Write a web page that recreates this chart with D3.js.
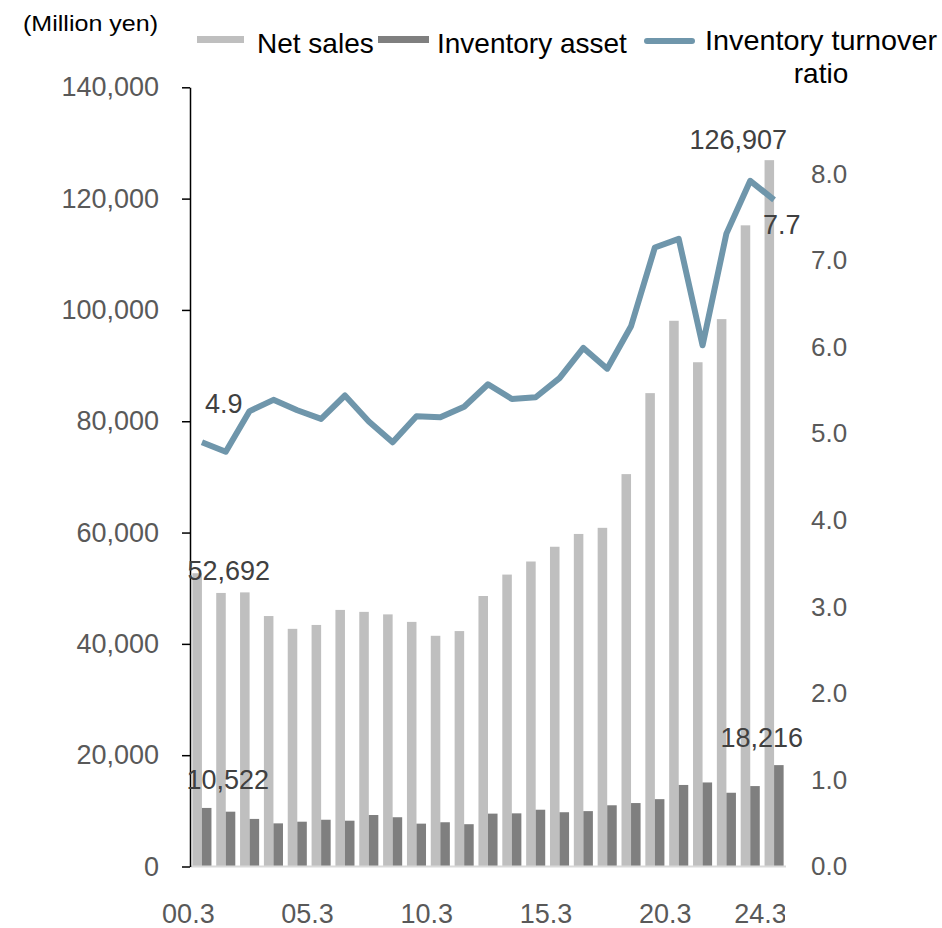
<!DOCTYPE html>
<html>
<head>
<meta charset="utf-8">
<script src="https://cdn.jsdelivr.net/npm/d3@7"></script>
<style>
  body { margin: 0; background: #fff; }
  text { font-family: "Liberation Sans", Arial, sans-serif; }
</style>
</head>
<body>
<script>
// fiscal years (March year-end)
var years = ["00.3","01.3","02.3","03.3","04.3","05.3","06.3","07.3","08.3","09.3",
             "10.3","11.3","12.3","13.3","14.3","15.3","16.3","17.3","18.3","19.3",
             "20.3","21.3","22.3","23.3","24.3"];
var netSales = [52692, 49150, 49250, 45000, 42700, 43400, 46100, 45750, 45300, 43950,
                41450, 42300, 48600, 52450, 54800, 57450, 59750, 60850, 70500, 85050,
                98050, 90600, 98350, 115200, 126907];
var inventory = [10522, 9850, 8550, 7750, 8050, 8400, 8230, 9250, 8850, 7700,
                 7950, 7600, 9500, 9550, 10200, 9750, 9950, 11000, 11400, 12100,
                 14650, 15100, 13250, 14450, 18216];
var turnover = [4.9, 4.79, 5.26, 5.39, 5.27, 5.17, 5.44, 5.14, 4.9, 5.2,
                5.19, 5.31, 5.57, 5.4, 5.42, 5.64, 5.99, 5.75, 6.24, 7.15,
                7.25, 6.02, 7.31, 7.92, 7.7];
var leftTicks = [0, 20000, 40000, 60000, 80000, 100000, 120000, 140000];
var rightTicks = [0, 1, 2, 3, 4, 5, 6, 7, 8];
var xLabels = ["00.3","05.3","10.3","15.3","20.3","24.3"];

var width = 942, height = 928;
var plotLeft = 190, plotRight = 786, plotTop = 87.3, plotBottom = 866.5;
var fs = 27;

var svg = d3.select("body").append("svg")
    .attr("width", width)
    .attr("height", height);

var x = d3.scaleBand()
    .domain(years)
    .range([plotLeft, plotRight])
    .paddingInner(0.2)
    .paddingOuter(0.1);
var bw = x.bandwidth() / 2;

var yL = d3.scaleLinear().domain([0, 140000]).range([plotBottom, plotTop]);
var yR = d3.scaleLinear().domain([0, 9]).range([plotBottom, plotTop]);

// bars
svg.append("g").selectAll("rect")
  .data(years)
  .enter().append("rect")
    .attr("x", function(d){ return x(d); })
    .attr("y", function(d, i){ return yL(netSales[i]); })
    .attr("width", bw)
    .attr("height", function(d, i){ return plotBottom - yL(netSales[i]); })
    .attr("fill", "#bfbfbf");

svg.append("g").selectAll("rect")
  .data(years)
  .enter().append("rect")
    .attr("x", function(d){ return x(d) + bw; })
    .attr("y", function(d, i){ return yL(inventory[i]); })
    .attr("width", bw)
    .attr("height", function(d, i){ return plotBottom - yL(inventory[i]); })
    .attr("fill", "#7f7f7f");

// baseline
svg.append("line")
    .attr("x1", plotLeft).attr("x2", plotRight)
    .attr("y1", plotBottom).attr("y2", plotBottom)
    .attr("stroke", "#d9d9d9").attr("stroke-width", 2);

// left axis
var gl = svg.append("g")
    .attr("transform", "translate(" + plotLeft + ",0)")
    .call(d3.axisLeft(yL).tickValues(leftTicks).tickSize(8).tickSizeOuter(0)
          .tickPadding(23).tickFormat(d3.format(",")));
gl.select(".domain").attr("stroke", "#000").attr("stroke-width", 1.5);
gl.selectAll(".tick line").attr("stroke", "#000").attr("stroke-width", 1.5);
gl.selectAll("text").attr("font-size", fs).attr("fill", "#595959")
    .attr("font-family", "Liberation Sans, Arial, sans-serif");

// right axis (labels only)
var gr = svg.append("g")
    .attr("transform", "translate(790,0)")
    .call(d3.axisRight(yR).tickValues(rightTicks).tickSize(0).tickPadding(21)
          .tickFormat(d3.format(".1f")));
gr.select(".domain").remove();
gr.selectAll("text").attr("font-size", fs - 1).attr("fill", "#595959")
    .attr("font-family", "Liberation Sans, Arial, sans-serif");

// x axis labels
svg.append("clipPath").attr("id", "xclip")
  .append("rect").attr("x", 0).attr("y", 0).attr("width", 785).attr("height", height);
var gx = svg.append("g")
    .attr("clip-path", "url(#xclip)")
  .append("g")
    .attr("transform", "translate(" + (-(x.bandwidth() / 2 + 4)) + "," + plotBottom + ")")
    .call(d3.axisBottom(x).tickValues(xLabels).tickSize(0).tickPadding(37));
gx.select(".domain").remove();
gx.selectAll("text").attr("font-size", fs).attr("fill", "#595959")
    .attr("font-family", "Liberation Sans, Arial, sans-serif");

// turnover line
var line = d3.line()
    .x(function(d, i){ return x(years[i]) + x.bandwidth() / 2; })
    .y(function(d){ return yR(d); });

svg.append("path")
    .datum(turnover)
    .attr("d", line)
    .attr("fill", "none")
    .attr("stroke", "#6f96ab")
    .attr("stroke-width", 6)
    .attr("stroke-linejoin", "round");

// data labels
var last = years.length - 1;
var lab = svg.append("g")
    .attr("font-size", fs)
    .attr("fill", "#404040");

lab.append("text")
    .attr("x", x(years[0]) - 5)
    .attr("y", yL(netSales[0]) + 7)
    .text(d3.format(",")(netSales[0]));
lab.append("text")
    .attr("x", x(years[0]) - 6)
    .attr("y", yL(inventory[0]) - 19)
    .text(d3.format(",")(inventory[0]));
lab.append("text")
    .attr("x", x(years[last]) + bw / 2 - 31)
    .attr("y", yL(netSales[last]) - 11)
    .attr("text-anchor", "middle")
    .text(d3.format(",")(netSales[last]));
lab.append("text")
    .attr("x", x(years[last]) + bw * 1.5 - 17)
    .attr("y", yL(inventory[last]) - 18)
    .attr("text-anchor", "middle")
    .text(d3.format(",")(inventory[last]));
lab.append("text")
    .attr("x", x(years[0]) + x.bandwidth() / 2 + 3)
    .attr("y", yR(turnover[0]) - 29)
    .text(d3.format(".1f")(turnover[0]));
lab.append("text")
    .attr("x", x(years[last]) + x.bandwidth() / 2 - 11)
    .attr("y", yR(turnover[last]) + 34)
    .text(d3.format(".1f")(turnover[last]));

// unit label
svg.append("text")
    .attr("x", 23).attr("y", 31)
    .attr("font-size", 22)
    .attr("textLength", 135)
    .attr("lengthAdjust", "spacingAndGlyphs")
    .attr("fill", "#000")
    .text("(Million yen)");

// legend
var lg = svg.append("g").attr("font-size", 28).attr("fill", "#000");
lg.append("rect").attr("x", 197).attr("y", 36).attr("width", 47).attr("height", 7).attr("fill", "#bfbfbf");
lg.append("text").attr("x", 257).attr("y", 52.5).text("Net sales");
lg.append("rect").attr("x", 378).attr("y", 36).attr("width", 51).attr("height", 7).attr("fill", "#7f7f7f");
lg.append("text").attr("x", 437).attr("y", 52.5).text("Inventory asset");
lg.append("line").attr("x1", 647).attr("x2", 692).attr("y1", 41).attr("y2", 41)
    .attr("stroke", "#6f96ab").attr("stroke-width", 6).attr("stroke-linecap", "round");
lg.append("text").attr("x", 821).attr("y", 50).attr("text-anchor", "middle")
    .attr("textLength", 232).attr("lengthAdjust", "spacingAndGlyphs")
    .text("Inventory turnover");
lg.append("text").attr("x", 821).attr("y", 83).attr("text-anchor", "middle").text("ratio");
</script>
</body>
</html>
